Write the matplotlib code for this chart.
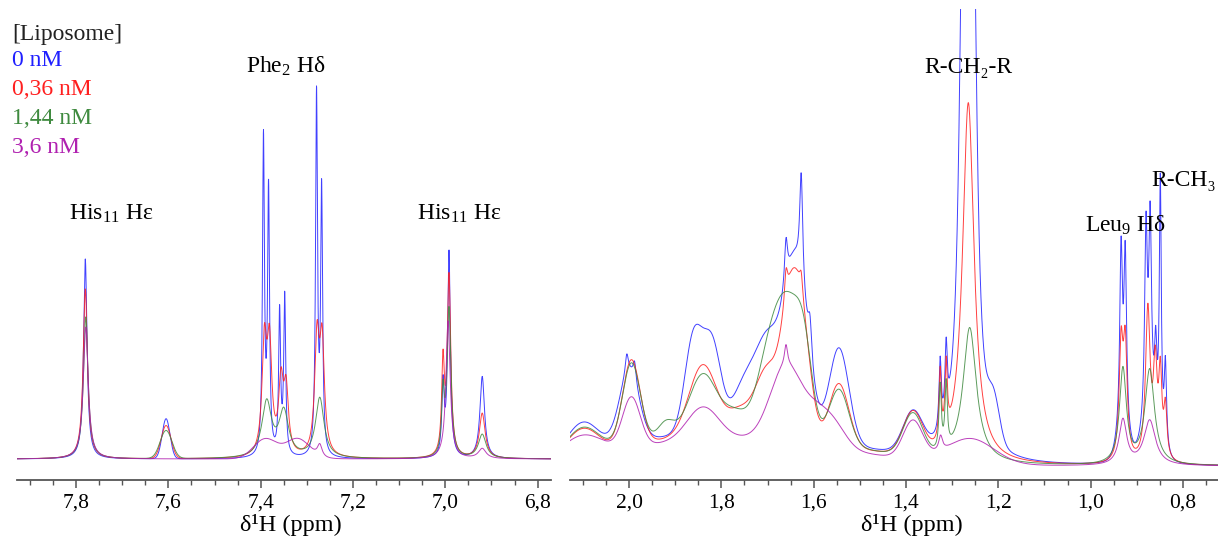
import numpy as np
import matplotlib
matplotlib.use("Agg")
import matplotlib.pyplot as plt
from matplotlib.ticker import MultipleLocator, FuncFormatter


# ============================================================
# 1. PEAK TABLES  (ppm, height, width)
#    sharp -> Lorentzian lines, broad -> Gaussian humps
# ============================================================

concentrations = ["0 nM", "0,36 nM", "1,44 nM", "3,6 nM"]
colors = ["#1f1fff", "#ff1f1f", "#3f8a3f", "#b020b0"]

# --- aromatic region (7.93 - 6.77 ppm) ---
blue_arom_sharp = [(7.780, 200, 0.009), (7.394, 315, 0.005), (7.383, 262, 0.005),
                   (7.359, 142, 0.005), (7.348, 158, 0.005), (7.279, 360, 0.005),
                   (7.268, 262, 0.005), (7.005, 70, 0.006), (6.992, 205, 0.007),
                   (6.920, 82, 0.012)]
blue_arom_broad = [(7.605, 40, 0.02)]

red_arom_sharp = [(7.780, 170, 0.011), (7.392, 108, 0.012), (7.381, 104, 0.012),
                  (7.356, 68, 0.012), (7.345, 62, 0.012), (7.278, 112, 0.012),
                  (7.267, 108, 0.012), (7.005, 90, 0.007), (6.992, 180, 0.009),
                  (6.920, 45, 0.015)]
red_arom_broad = [(7.605, 33, 0.025)]

green_arom_sharp = [(7.779, 142, 0.012), (7.387, 55, 0.025), (7.350, 45, 0.025),
                    (7.272, 60, 0.022), (7.005, 60, 0.007), (6.992, 148, 0.010),
                    (6.920, 24, 0.02)]
green_arom_broad = [(7.605, 28, 0.03)]

magenta_arom_sharp = [(7.779, 132, 0.013), (7.272, 12, 0.012), (6.994, 138, 0.011),
                      (6.920, 10, 0.02)]
magenta_arom_broad = [(7.39, 20, 0.06), (7.32, 20, 0.06)]

# --- aliphatic region (2.13 - 0.72 ppm) ---
blue_ali_sharp = [(2.005, 20, 0.008), (1.988, 20, 0.008), (1.660, 45, 0.008),
                  (1.627, 110, 0.008), (1.608, 40, 0.01), (1.326, 70, 0.006),
                  (1.313, 70, 0.006), (1.276, 520, 0.02), (1.255, 520, 0.02),
                  (0.934, 180, 0.007), (0.925, 175, 0.007), (0.880, 190, 0.007),
                  (0.871, 190, 0.007), (0.859, 70, 0.006), (0.849, 255, 0.005),
                  (0.838, 85, 0.006)]
blue_ali_broad = [(1.78, 35, 0.55), (2.10, 30, 0.08), (2.00, 70, 0.05), (1.86, 95, 0.045),
                  (1.82, 85, 0.045), (1.75, 45, 0.06), (1.70, 85, 0.06), (1.64, 170, 0.06),
                  (1.545, 95, 0.05), (1.385, 40, 0.05), (1.21, 40, 0.03), (0.93, 25, 0.03),
                  (0.87, 40, 0.04)]

red_ali_sharp = [(1.660, 30, 0.008), (1.627, 20, 0.008), (1.326, 70, 0.006),
                 (1.313, 70, 0.006), (1.265, 360, 0.03), (0.934, 110, 0.01),
                 (0.925, 110, 0.01), (0.876, 150, 0.012), (0.860, 90, 0.01),
                 (0.849, 80, 0.008), (0.838, 50, 0.008)]
red_ali_broad = [(1.78, 32, 0.55), (2.10, 25, 0.08), (1.995, 85, 0.045), (1.84, 70, 0.07),
                 (1.76, 22, 0.06), (1.70, 65, 0.06), (1.652, 110, 0.045), (1.625, 100, 0.045),
                 (1.545, 62, 0.05), (1.385, 42, 0.05)]

green_ali_sharp = [(1.326, 65, 0.006), (1.313, 65, 0.006), (1.262, 135, 0.035),
                   (0.930, 95, 0.018), (0.872, 95, 0.025)]
green_ali_broad = [(1.78, 35, 0.55), (2.10, 25, 0.08), (1.995, 80, 0.045), (1.92, 15, 0.04),
                   (1.84, 58, 0.07), (1.77, 18, 0.06), (1.70, 58, 0.06), (1.655, 125, 0.07),
                   (1.62, 55, 0.04), (1.545, 55, 0.05), (1.385, 42, 0.05)]

magenta_ali_sharp = [(1.660, 20, 0.008), (1.325, 15, 0.01), (0.930, 45, 0.02),
                     (0.872, 45, 0.03)]
magenta_ali_broad = [(1.78, 28, 0.55), (2.10, 20, 0.1), (1.995, 50, 0.045), (1.84, 32, 0.08),
                     (1.66, 75, 0.08), (1.59, 30, 0.07), (1.55, 15, 0.06), (1.385, 38, 0.05),
                     (1.26, 25, 0.12)]

arom_sets = [(blue_arom_sharp, blue_arom_broad), (red_arom_sharp, red_arom_broad),
             (green_arom_sharp, green_arom_broad), (magenta_arom_sharp, magenta_arom_broad)]
ali_sets = [(blue_ali_sharp, blue_ali_broad), (red_ali_sharp, red_ali_broad),
            (green_ali_sharp, green_ali_broad), (magenta_ali_sharp, magenta_ali_broad)]


def spectrum(ppm, sharp, broad):
    y = np.zeros_like(ppm)
    for c, h, w in sharp:
        y += h / (1 + ((ppm - c) / (w / 2)) ** 2)
    for c, h, w in broad:
        y += h * np.exp(-4 * np.log(2) * ((ppm - c) / w) ** 2)
    return y


# ============================================================
# 2. FIGURE
# ============================================================

plt.rcParams["font.family"] = ["Liberation Serif", "DejaVu Serif"]
plt.rcParams["mathtext.fontset"] = "custom"
plt.rcParams["mathtext.rm"] = "Liberation Serif"
plt.rcParams["mathtext.it"] = "Liberation Serif:italic"
plt.rcParams["mathtext.default"] = "rm"

W, H = 1218, 543
fig = plt.figure(figsize=(W / 100, H / 100), dpi=100)

ax_l = fig.add_axes([17 / W, 63 / H, (551 - 17) / W, 471 / H])
ax_r = fig.add_axes([570 / W, 63 / H, (W - 570) / W, 471 / H])

ppm_l = np.linspace(7.93, 6.77, 4000)
ppm_r = np.linspace(2.13, 0.72, 5000)

for (sharp, broad), col in zip(arom_sets, colors):
    ax_l.plot(ppm_l, spectrum(ppm_l, sharp, broad), color=col, lw=0.7, alpha=0.85)
for (sharp, broad), col in zip(ali_sets, colors):
    ax_r.plot(ppm_r, spectrum(ppm_r, sharp, broad), color=col, lw=0.7, alpha=0.85)

ax_l.set_xlim(7.928, 6.771)
ax_l.set_ylim(-21, 450)
ax_r.set_xlim(2.128, 0.724)
ax_r.set_ylim(-14, 457)

comma = FuncFormatter(lambda v, pos: f"{v:.1f}".replace(".", ","))
for ax in (ax_l, ax_r):
    for side in ("top", "left", "right"):
        ax.spines[side].set_visible(False)
    ax.spines["bottom"].set_color("#555555")
    ax.spines["bottom"].set_linewidth(1.3)
    ax.set_yticks([])
    ax.xaxis.set_major_locator(MultipleLocator(0.2))
    ax.xaxis.set_minor_locator(MultipleLocator(0.05))
    ax.xaxis.set_major_formatter(comma)
    ax.tick_params(axis="x", which="major", direction="out", length=6, width=1.1,
                   color="#555555", labelsize=15.5, pad=4)
    ax.tick_params(axis="x", which="minor", direction="out", length=3.5, width=1.0,
                   color="#555555")
    ax.patch.set_alpha(0)

# axis titles
fig.text(291 / W, 1 - 525 / H, "δ¹H (ppm)", ha="center", va="center", fontsize=17.5)
fig.text(912 / W, 1 - 525 / H, "δ¹H (ppm)", ha="center", va="center", fontsize=17.5)

# legend block
fig.text(12 / W, 1 - 40 / H, "[Liposome]", ha="left", va="baseline", fontsize=17, color="#222222")
for i, (lab, col) in enumerate(zip(concentrations, colors)):
    fig.text(12 / W, 1 - (66 + 29 * i) / H, lab, ha="left", va="baseline",
             fontsize=17, color=col)

# peak annotations
fig.text(286 / W, 1 - 73 / H, "Phe$_2$ Hδ", ha="center", va="baseline", fontsize=17)
fig.text(111 / W, 1 - 220 / H, "His$_{11}$ Hε", ha="center", va="baseline", fontsize=17)
fig.text(459 / W, 1 - 220 / H, "His$_{11}$ Hε", ha="center", va="baseline", fontsize=17)
fig.text(968 / W, 1 - 73 / H, "R-CH₂-R", ha="center", va="baseline", fontsize=17)
fig.text(1125 / W, 1 - 232 / H, "Leu$_9$ Hδ", ha="center", va="baseline", fontsize=17)
fig.text(1184 / W, 1 - 186 / H, "R-CH₃", ha="center", va="baseline", fontsize=17)

fig.savefig("out.png", dpi=100)
